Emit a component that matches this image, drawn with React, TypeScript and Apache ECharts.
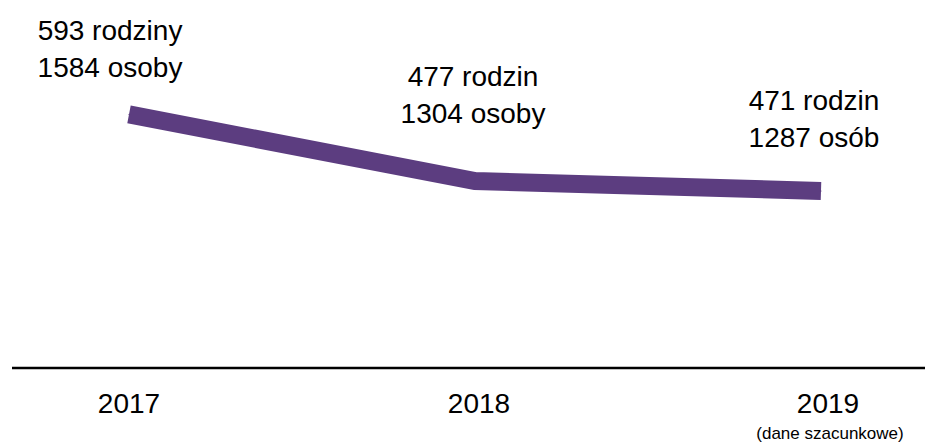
import React, { useEffect, useRef } from "react";
import * as echarts from "echarts";

const categories = ["2017", "2018", "2019"];
const lineValues = [68.9, 50.8, 48.1];
const families = ["593 rodziny", "477 rodzin", "471 rodzin"];
const persons = ["1584 osoby", "1304 osoby", "1287 osób"];
const note2019 = "(dane szacunkowe)";

const FONT = "'Liberation Sans', Arial, Helvetica, sans-serif";

export default function App() {
  const ref = useRef<HTMLDivElement>(null);
  useEffect(() => {
    if (!ref.current) return;
    const chart = echarts.init(ref.current, null, { renderer: "svg" });
    const labelOffsets = [
      { dx: -19, dist: 28 },
      { dx: -2, dist: 49 },
      { dx: -7, dist: 34 },
    ];
    chart.setOption({
      animation: false,
      grid: { left: 129, right: 118, top: 0, bottom: 76 },
      xAxis: {
        type: "category",
        data: categories,
        boundaryGap: false,
        axisLine: { show: false },
        axisTick: { show: false },
        axisLabel: {
          interval: 0,
          margin: 21,
          fontSize: 28,
          color: "#000",
          fontFamily: FONT,
          formatter: (v: string) => {
            if (v === "2019") return `{c|${v}}\n{s|${note2019}}`;
            if (v === "2018") return `{b|${v}}`;
            return `{a|${v}}`;
          },
          rich: {
            a: { fontSize: 28, fontFamily: FONT, color: "#000" },
            b: { fontSize: 28, fontFamily: FONT, color: "#000", padding: [0, 0, 0, 8] },
            c: { fontSize: 28, fontFamily: FONT, color: "#000", padding: [0, 0, 0, 14] },
            s: { fontSize: 17, fontFamily: FONT, color: "#000", lineHeight: 28, padding: [4, 0, 0, 18] },
          },
        },
      },
      yAxis: { type: "value", min: 0, max: 100, show: false, splitLine: { show: false } },
      graphic: [
        {
          type: "line",
          shape: { x1: 12, y1: 368, x2: 925, y2: 368 },
          style: { stroke: "#000", lineWidth: 2.5 },
        },
      ],
      series: [
        {
          type: "line",
          data: lineValues.map((v, i) => ({
            value: v,
            label: {
              show: true,
              position: "top",
              distance: labelOffsets[i].dist,
              offset: [labelOffsets[i].dx, 0],
              formatter: `${families[i]}\n${persons[i]}`,
              fontSize: 28,
              lineHeight: 37,
              fontFamily: FONT,
              color: "#000",
              align: "center",
            },
          })),
          symbol: "circle",
          symbolSize: 1,
          itemStyle: { color: "#5c3d80" },
          lineStyle: { color: "#5c3d80", width: 18, cap: "butt", join: "miter" },
        },
      ],
    });
    return () => chart.dispose();
  }, []);
  return (
    <div
      ref={ref}
      style={{ position: "absolute", left: 0, top: 0, width: 939, height: 444, background: "#fff" }}
    />
  );
}
